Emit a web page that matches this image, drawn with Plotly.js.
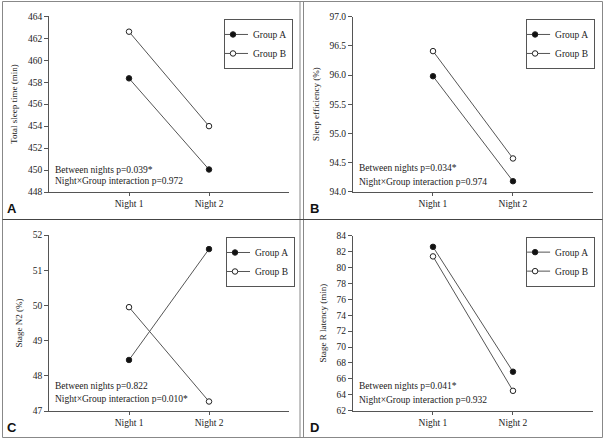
<!DOCTYPE html>
<html><head><meta charset="utf-8">
<script src="https://cdn.plot.ly/plotly-3.0.1.min.js"></script>
<style>html,body{margin:0;padding:0;background:#fff}#chart{width:606px;height:441px}</style>
</head><body><div id="chart"></div>
<script>
// ---- data ----
const nights = ['Night 1', 'Night 2'];
const groupNames = ['Group A', 'Group B'];
const sleepTimeA = [458.35, 450.05];
const sleepTimeB = [462.6, 454.0];
const efficiencyA = [95.98, 94.18];
const efficiencyB = [96.41, 94.57];
const stageN2A = [48.45, 51.6];
const stageN2B = [49.95, 47.27];
const latencyA = [82.6, 66.9];
const latencyB = [81.4, 64.5];
const yTitles = ['Total sleep time (min)', 'Sleep efficiency (%)', 'Stage N2 (%)', 'Stage R latency (min)'];
const yRanges = [[448, 464], [94, 97], [47, 52], [62, 84]];
const yDticks = [2, 0.5, 1, 2];
const pBetween = ['Between nights p=0.039*', 'Between nights p=0.034*', 'Between nights p=0.822', 'Between nights p=0.041*'];
const pInteraction = ['Night×Group interaction p=0.972', 'Night×Group interaction p=0.974', 'Night×Group interaction p=0.010*', 'Night×Group interaction p=0.932'];
const panelLetters = ['A', 'B', 'C', 'D'];

// ---- styles ----
const serif = 'Liberation Serif, Times New Roman, serif';
const axisColor = '#555';
const lineColor = '#555';
const panelsA = [sleepTimeA, efficiencyA, stageN2A, latencyA];
const panelsB = [sleepTimeB, efficiencyB, stageN2B, latencyB];
const xDomains = [[0.0809, 0.4769], [0.5825, 0.9785], [0.0809, 0.4769], [0.5825, 0.9785]];
const yDomains = [[0.5646, 0.963], [0.5653, 0.9621], [0.068, 0.4671], [0.0687, 0.4655]];
const legendPos = [[0.4835, 0.957], [0.982, 0.957], [0.4868, 0.4626], [0.982, 0.4634]];
const letterPos = [[0.009, 0.506], [0.508, 0.506], [0.009, 0.009], [0.508, 0.009]];
const textY = [[0.125, 0.063], [0.135, 0.057], [0.144, 0.068], [0.141, 0.061]];

const traces = [];
const layout = {
  width: 606, height: 441,
  margin: {l: 0, r: 0, t: 0, b: 0},
  paper_bgcolor: '#fff', plot_bgcolor: '#fff',
  showlegend: true,
  annotations: [], shapes: []
};

for (let i = 0; i < 4; i++) {
  const sfx = i === 0 ? '' : String(i + 1);
  const xa = 'x' + sfx, ya = 'y' + sfx;
  const lg = 'legend' + sfx;
  const seriesList = [panelsA[i], panelsB[i]];
  seriesList.forEach((vals, g) => {
    traces.push({
      type: 'scatter', mode: 'lines+markers',
      x: nights, y: vals, name: groupNames[g],
      xaxis: xa, yaxis: ya, legend: lg, showlegend: true,
      line: {color: lineColor, width: 1},
      marker: {size: 5.5, symbol: 'circle', color: g === 0 ? '#111' : '#fff', line: {color: '#222', width: 1}},
      cliponaxis: false
    });
  });
  layout['xaxis' + sfx] = {
    domain: xDomains[i], anchor: ya, type: 'category', range: [-1, 2],
    showline: true, linecolor: axisColor, linewidth: 1,
    ticks: 'outside', ticklen: 3, tickcolor: axisColor,
    showgrid: false, zeroline: false, fixedrange: true,
    tickfont: {family: serif, size: 9.5, color: '#222'}
  };
  layout['yaxis' + sfx] = {
    domain: yDomains[i], anchor: xa, range: yRanges[i], dtick: yDticks[i],
    tickformat: i === 1 ? '.1f' : 'd',
    showline: true, linecolor: axisColor, linewidth: 1,
    ticks: 'outside', ticklen: 4, tickcolor: axisColor,
    showgrid: false, zeroline: false, fixedrange: true,
    tickfont: {family: serif, size: 9.5, color: '#222'},
    title: {text: yTitles[i], font: {family: serif, size: 9, color: '#222'}, standoff: 8}
  };
  layout[lg] = {
    x: legendPos[i][0], y: legendPos[i][1], xanchor: 'right', yanchor: 'top',
    xref: 'paper', yref: 'paper', indentation: -12,
    bgcolor: '#fff', bordercolor: '#555', borderwidth: 1,
    font: {family: serif, size: 9.5, color: '#222'}, tracegroupgap: 0
  };
  layout.annotations.push({
    xref: xa + ' domain', yref: ya + ' domain', x: 0.017, y: textY[i][0],
    xanchor: 'left', yanchor: 'middle', showarrow: false, text: pBetween[i],
    font: {family: serif, size: 9.5, color: '#222'}
  });
  layout.annotations.push({
    xref: xa + ' domain', yref: ya + ' domain', x: 0.017, y: textY[i][1],
    xanchor: 'left', yanchor: 'middle', showarrow: false, text: pInteraction[i],
    font: {family: serif, size: 9.5, color: '#222'}
  });
  layout.annotations.push({
    xref: 'paper', yref: 'paper', x: letterPos[i][0], y: letterPos[i][1],
    xanchor: 'left', yanchor: 'bottom', showarrow: false, text: '<b>' + panelLetters[i] + '</b>',
    font: {family: 'Liberation Sans, Arial, sans-serif', size: 13, color: '#111'}
  });
}

// frame lines
const px = v => v / 606, py = v => 1 - v / 441;
layout.shapes.push(
  {type: 'rect', xref: 'paper', yref: 'paper', x0: px(2.5), x1: px(602.5), y0: py(1.5), y1: py(437.5), line: {color: '#888', width: 1}},
  {type: 'line', xref: 'paper', yref: 'paper', x0: px(300), x1: px(300), y0: py(1.5), y1: py(437.5), line: {color: '#888', width: 1}},
  {type: 'line', xref: 'paper', yref: 'paper', x0: px(303.5), x1: px(303.5), y0: py(1.5), y1: py(437.5), line: {color: '#888', width: 1}},
  {type: 'line', xref: 'paper', yref: 'paper', x0: px(2.5), x1: px(602.5), y0: py(219.5), y1: py(219.5), line: {color: '#444', width: 1}}
);

Plotly.newPlot('chart', traces, layout, {displayModeBar: false, staticPlot: true});
</script>
</body></html>
